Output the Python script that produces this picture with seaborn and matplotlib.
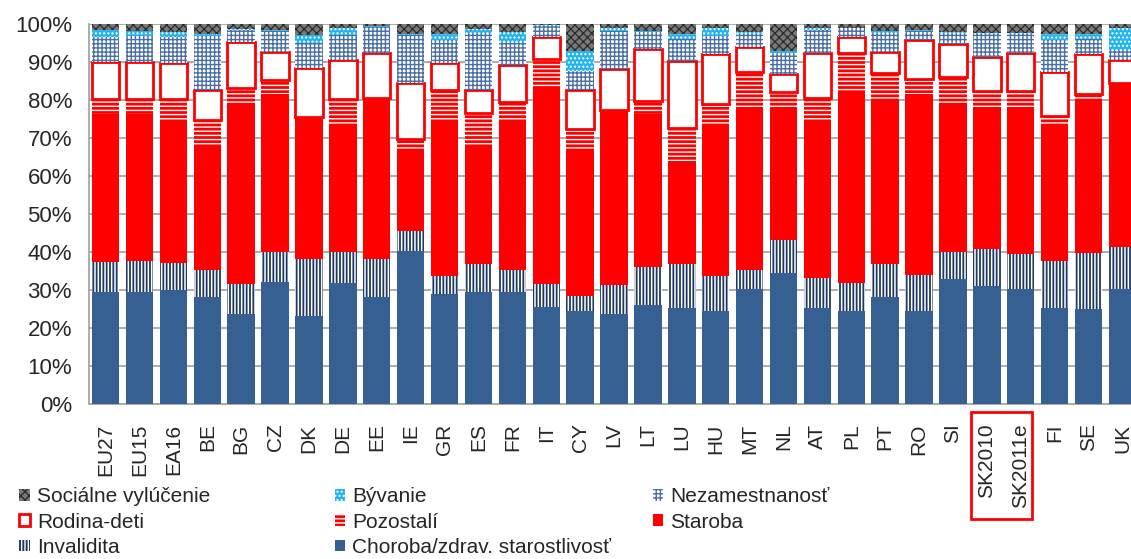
import numpy as np
import pandas as pd
import seaborn as sns
import matplotlib.pyplot as plt
from matplotlib.patches import Patch, Rectangle
from matplotlib.ticker import PercentFormatter, FixedLocator
import matplotlib.transforms as mtransforms

# Data: share of social protection expenditure by function (%)
countries = ['EU27', 'EU15', 'EA16', 'BE', 'BG', 'CZ', 'DK', 'DE', 'EE', 'IE', 'GR',
             'ES', 'FR', 'IT', 'CY', 'LV', 'LT', 'LU', 'HU', 'MT', 'NL', 'AT', 'PL',
             'PT', 'RO', 'SI', 'SK2010', 'SK2011e', 'FI', 'SE', 'UK']

choroba = [29.6, 29.6, 30.0, 28.2, 23.6, 32.2, 23.2, 31.8, 28.1, 40.3, 28.9, 29.6, 29.6, 25.6, 24.6, 23.6,
           26.2, 25.2, 24.6, 30.4, 34.6, 25.4, 24.6, 28.2, 24.6, 32.9, 31.1, 30.2, 25.4, 25.0, 30.4]
invalidita = [7.7, 8.1, 7.0, 7.2, 8.0, 7.9, 15.1, 8.1, 10.0, 5.2, 4.8, 7.2, 5.8, 6.0, 3.8, 7.7,
              9.9, 11.6, 9.1, 5.0, 8.6, 7.7, 7.2, 8.6, 9.3, 7.0, 9.7, 9.2, 12.3, 14.8, 11.0]
staroba = [39.0, 38.6, 37.9, 32.6, 47.3, 41.5, 37.1, 33.3, 42.3, 21.3, 41.2, 31.4, 38.9, 51.5, 38.3, 45.2,
           40.2, 27.2, 39.5, 42.7, 34.9, 41.8, 50.2, 43.5, 47.7, 39.0, 36.8, 38.2, 35.5, 40.5, 43.0]
pozostali = [4.1, 4.1, 5.5, 6.7, 4.4, 3.7, 0.2, 7.1, 0.2, 2.9, 7.7, 8.5, 5.3, 7.7, 5.8, 1.0,
             3.5, 8.7, 5.7, 9.4, 4.1, 5.8, 10.3, 6.9, 4.1, 7.2, 4.8, 4.8, 2.6, 1.3, 0.2]
rodina = [9.7, 9.6, 9.4, 7.9, 11.9, 7.4, 12.8, 10.2, 11.9, 14.7, 7.3, 6.1, 9.6, 5.9, 10.3, 10.8,
          13.8, 17.7, 13.2, 6.4, 4.6, 11.6, 4.4, 5.5, 10.1, 8.8, 9.0, 10.1, 11.7, 10.5, 5.9]
nezamestnanost = [6.6, 6.8, 6.9, 14.3, 3.2, 5.5, 6.7, 6.6, 6.8, 12.7, 5.9, 15.0, 6.1, 2.9, 4.8, 9.9,
                  4.4, 5.8, 4.7, 3.6, 5.5, 6.1, 2.2, 5.0, 2.4, 2.8, 6.1, 5.0, 8.3, 4.1, 2.8]
byvanie = [1.7, 1.4, 1.3, 0.6, 0.3, 0.2, 2.2, 1.8, 0.2, 0.3, 1.7, 0.9, 2.7, 0.2, 5.4, 0.7,
           0.3, 1.3, 2.2, 0.5, 0.7, 0.5, 0.2, 0.5, 0.4, 0.2, 0.2, 0.2, 1.7, 1.3, 5.6]
socialne = [1.6, 1.8, 2.0, 2.5, 1.3, 1.6, 2.7, 1.1, 0.5, 2.6, 2.5, 1.3, 2.0, 0.2, 7.0, 1.1,
            1.7, 2.5, 1.0, 2.0, 7.0, 1.1, 0.9, 1.8, 1.4, 2.1, 2.3, 2.3, 2.5, 2.5, 1.1]

df = pd.DataFrame({'country': countries, 'Choroba': choroba, 'Invalidita': invalidita,
                   'Staroba': staroba, 'Pozostali': pozostali, 'Rodina': rodina,
                   'Nezam': nezamestnanost, 'Byvanie': byvanie, 'Socialne': socialne})
cols = ['Choroba', 'Invalidita', 'Staroba', 'Pozostali', 'Rodina', 'Nezam', 'Byvanie', 'Socialne']
# 100 % stacked
df[cols] = df[cols].div(df[cols].sum(axis=1), axis=0) * 100

# layer styles: label, face, edge (= hatch colour), hatch, linewidth, hatch linewidth
styles = {
    'Choroba': ('Choroba/zdrav. starostlivosť', '#376092', '#376092', None, 0, 1.0),
    'Invalidita': ('Invalidita', '#1f3864', 'white', '|||||', 0, 1.1),
    'Staroba': ('Staroba', '#ff0000', '#ff0000', None, 0, 1.0),
    'Pozostali': ('Pozostalí', '#ff0000', 'white', '----', 0, 1.0),
    'Rodina': ('Rodina-deti', 'white', '#ff0000', None, 2.0, 1.0),
    'Nezam': ('Nezamestnanosť', 'white', '#4a6fa5', '++++', 0, 1.0),
    'Byvanie': ('Bývanie', '#22b4ee', 'white', '....', 0, 1.0),
    'Socialne': ('Sociálne vylúčenie', '#7a7a7a', '#2b2b2b', 'xxxx', 0, 0.9),
}

sns.set_style('white')
plt.rcParams['font.family'] = ['Liberation Sans', 'DejaVu Sans']

fig = plt.figure(figsize=(11.31, 5.59), dpi=100)
ax = fig.add_axes([0.0784, 0.2773, 0.929, 0.6793])

bottom = np.zeros(len(df))
handles = {}
for c in cols:
    label, face, edge, hatch, lw, hlw = styles[c]
    n_before = len(ax.patches)
    sns.barplot(x=df['country'], y=df[c], bottom=bottom, ax=ax, color=face, edgecolor=edge,
                hatch=hatch, linewidth=lw, saturation=1, width=0.81, zorder=3)
    for p in ax.patches[n_before:]:
        if hasattr(p, 'set_hatch_linewidth'):
            p.set_hatch_linewidth(hlw)
    hp = Patch(facecolor=face, edgecolor=edge, hatch=hatch, linewidth=lw)
    if hasattr(hp, 'set_hatch_linewidth'):
        hp.set_hatch_linewidth(hlw)
    handles[c] = (hp, label)
    bottom += df[c].values

grid_c = '#a6a6a6'
ax.set_xlim(-0.5, len(countries) - 0.5)
ax.set_ylim(0, 100)
ax.set_xlabel('')
ax.set_ylabel('')
ax.yaxis.set_major_locator(FixedLocator(np.arange(0, 101, 10)))
ax.yaxis.set_major_formatter(PercentFormatter(100, decimals=0))
ax.grid(axis='y', color=grid_c, linewidth=1.3, zorder=0)
ax.set_axisbelow(True)
for s in ['top', 'right']:
    ax.spines[s].set_visible(False)
for s in ['left', 'bottom']:
    ax.spines[s].set_color(grid_c)
    ax.spines[s].set_linewidth(1.3)

ax.tick_params(axis='y', length=6, width=1.3, color=grid_c, pad=6, labelsize=16)
ax.tick_params(axis='x', which='major', length=0, pad=14)
ax.set_xticks(np.arange(-0.5, len(countries), 1), minor=True)
ax.tick_params(axis='x', which='minor', length=7, width=1.3, color=grid_c)
ax.set_xticks(np.arange(len(countries)))
ax.set_xticklabels(countries, rotation=90, fontsize=15)

# red frame around the Slovak labels
trans = mtransforms.blended_transform_factory(ax.transData, ax.transAxes)
ax.add_patch(Rectangle((25.52, -0.303), 1.82, 0.283, transform=trans, fill=False,
                       edgecolor='#ff0000', linewidth=2, clip_on=False))

# legend in three columns (row-major order as in the source)
legend_cols = [['Socialne', 'Rodina', 'Invalidita'],
               ['Byvanie', 'Pozostali', 'Choroba'],
               ['Nezam', 'Staroba']]
legend_x = [0.017, 0.296, 0.577]
for keys, lx in zip(legend_cols, legend_x):
    fig.legend([handles[k][0] for k in keys], [handles[k][1] for k in keys],
               loc='upper left', bbox_to_anchor=(lx, 0.128), frameon=False,
               prop={'size': 15}, handlelength=0.5, handleheight=0.5,
               handletextpad=0.35, labelspacing=0.3, borderpad=0, borderaxespad=0)

fig.savefig('out.png', dpi=100)
